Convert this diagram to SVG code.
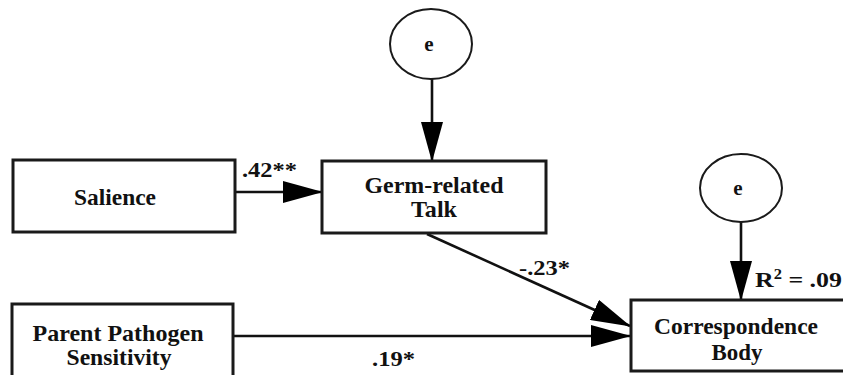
<svg xmlns="http://www.w3.org/2000/svg" width="843" height="375" viewBox="0 0 843 375">
<style>
.box{fill:#fff;stroke:#1a1a1a;stroke-width:3}
.err{fill:#fff;stroke:#1a1a1a;stroke-width:2}
.t{font-family:"Liberation Serif","Times New Roman",serif;font-weight:bold;font-size:23px;fill:#111;text-anchor:middle}
.lb{font-family:"Liberation Serif","Times New Roman",serif;font-weight:bold;font-size:20px;fill:#111}
.c{stroke:#111;stroke-width:2.6;fill:none;marker-end:url(#ah)}
</style>
<defs>
<marker id="ah" markerUnits="userSpaceOnUse" markerWidth="40" markerHeight="22" refX="39" refY="11" orient="auto">
<path d="M0,0 L40,11 L0,22 z" fill="#000"/>
</marker>
</defs>
<rect width="843" height="375" fill="#fff"/>
<g id="connectors">
<line class="c" x1="432" y1="79" x2="432" y2="161"/>
<line class="c" x1="235" y1="192" x2="322" y2="192"/>
<line class="c" x1="741" y1="222" x2="741" y2="300"/>
<line class="c" x1="427" y1="234" x2="630" y2="326"/>
<line class="c" x1="233" y1="336" x2="630" y2="336"/>
</g>
<g id="e1">
<ellipse class="err" cx="431" cy="44" rx="41" ry="35"/>
<text class="t" x="429" y="51" style="font-size:21px">e</text>
</g>
<g id="e2">
<ellipse class="err" cx="741" cy="188" rx="41" ry="34"/>
<text class="t" x="738" y="195" style="font-size:21px">e</text>
</g>
<g id="salience">
<rect class="box" x="13" y="160" width="222" height="72"/>
<text class="t" x="115" y="205" textLength="82" lengthAdjust="spacingAndGlyphs">Salience</text>
</g>
<g id="germ">
<rect class="box" x="322" y="161" width="224" height="72"/>
<text class="t" x="434" y="193" textLength="139" lengthAdjust="spacingAndGlyphs">Germ-related</text>
<text class="t" x="434" y="217" textLength="46" lengthAdjust="spacingAndGlyphs">Talk</text>
</g>
<g id="parent">
<rect class="box" x="12" y="304" width="221" height="80"/>
<text class="t" x="118" y="341" textLength="171" lengthAdjust="spacingAndGlyphs">Parent Pathogen</text>
<text class="t" x="119" y="365" textLength="105" lengthAdjust="spacingAndGlyphs">Sensitivity</text>
</g>
<g id="correspondence">
<rect class="box" x="631" y="300" width="220" height="71"/>
<text class="t" x="736" y="334" textLength="164" lengthAdjust="spacingAndGlyphs">Correspondence</text>
<text class="t" x="737" y="360" textLength="51" lengthAdjust="spacingAndGlyphs">Body</text>
</g>
<g id="labels">
<text class="lb" x="242" y="177" textLength="55" lengthAdjust="spacingAndGlyphs">.42**</text>
<text class="lb" x="519" y="275" textLength="51" lengthAdjust="spacingAndGlyphs">-.23*</text>
<text class="lb" x="372" y="366" textLength="43" lengthAdjust="spacingAndGlyphs">.19*</text>
<text class="lb" x="755" y="287" style="font-size:22px" textLength="87" lengthAdjust="spacingAndGlyphs">R<tspan font-size="14" dy="-8">2</tspan><tspan dy="8"> = .09</tspan></text>
</g>
</svg>
